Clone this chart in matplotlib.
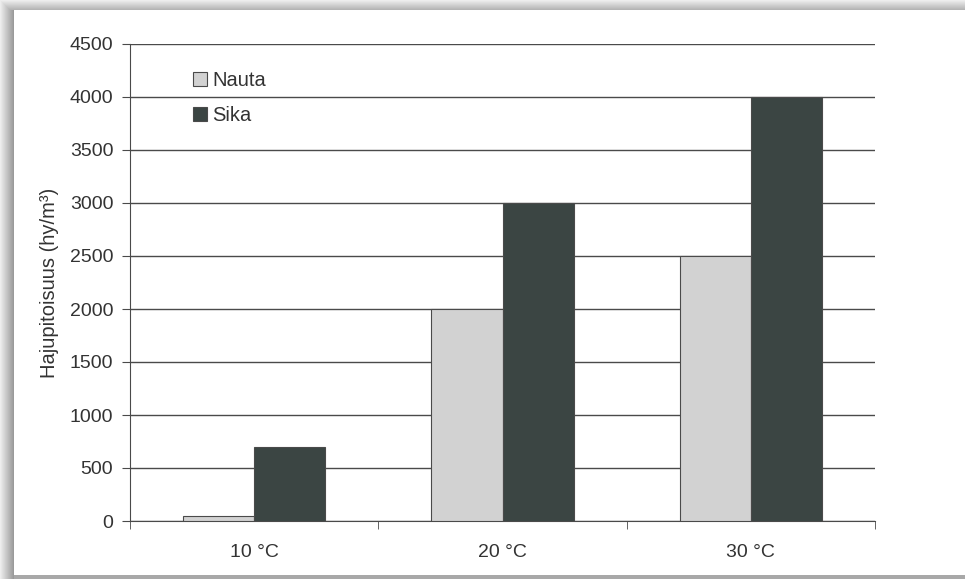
import matplotlib.pyplot as plt
import numpy as np
from matplotlib.patches import Rectangle

# Data
categories = ['10 °C', '20 °C', '30 °C']
nauta = [50, 2000, 2500]
sika = [700, 3000, 4000]
yticks = [0, 500, 1000, 1500, 2000, 2500, 3000, 3500, 4000, 4500]

plt.rcParams['font.family'] = ['Liberation Sans', 'DejaVu Sans']

fig = plt.figure(figsize=(9.65, 5.79), dpi=100)
fig.patch.set_facecolor('white')

# Shadow frame around the white panel
W, H = 965, 579
for i in range(14):
    g = 0.93 - 0.025 * i
    fig.patches.append(Rectangle((i / W, 0), 1 / W, 1, transform=fig.transFigure,
                                 facecolor=(g, g, g), edgecolor='none', zorder=0))
for i in range(10):
    g = 0.93 - 0.025 * i
    fig.patches.append(Rectangle((i / W, 1 - (i + 1) / H), 1, 1 / H, transform=fig.transFigure,
                                 facecolor=(g, g, g), edgecolor='none', zorder=0))
fig.patches.append(Rectangle((14 / W, 0), 1, 4 / H, transform=fig.transFigure,
                             facecolor='#a8a8a8', edgecolor='none', zorder=0))

ax = fig.add_axes([130 / W, 1 - 521 / H, 745 / W, 477 / H])

x = np.arange(len(categories))
w = 0.286
ax.bar(x - w / 2, nauta, w, color='#d2d2d2', edgecolor='#4a4a4a', linewidth=0.8,
       label='Nauta', zorder=3)
ax.bar(x + w / 2, sika, w, color='#3b4543', edgecolor='#4a4a4a', linewidth=0.8,
       label='Sika', zorder=3)

ax.set_xlim(-0.5, 2.5)
ax.set_ylim(0, 4500)
ax.set_yticks(yticks)
ax.set_xticks(x)
ax.set_xticklabels(categories)
ax.set_xticks([-0.5, 0.5, 1.5, 2.5], minor=True)

ax.yaxis.grid(True, color='#4a4a4a', linewidth=1.0, zorder=0)
ax.set_axisbelow(True)

for s in ['top', 'right']:
    ax.spines[s].set_visible(False)
ax.spines['left'].set_color('#4a4a4a')
ax.spines['bottom'].set_color('#4a4a4a')

ax.tick_params(axis='y', direction='out', length=6, color='#4a4a4a',
               labelsize=14, labelcolor='#333333', pad=6)
ax.tick_params(axis='x', which='major', length=0, labelsize=14,
               labelcolor='#333333', pad=16.5)
ax.tick_params(axis='x', which='minor', direction='out', length=6, color='#4a4a4a')

ax.set_ylabel('Hajupitoisuus (hy/m³)', fontsize=14.5, color='#333333', labelpad=8)

ax.legend(loc='upper left', bbox_to_anchor=(193 / W, 1 - 71 / H),
          bbox_transform=fig.transFigure, frameon=False, fontsize=14.5,
          handlelength=0.7, handleheight=0.7, handletextpad=0.25,
          labelspacing=0.8, borderpad=0, borderaxespad=0, labelcolor='#333333')

fig.savefig('out.png', dpi=100)
